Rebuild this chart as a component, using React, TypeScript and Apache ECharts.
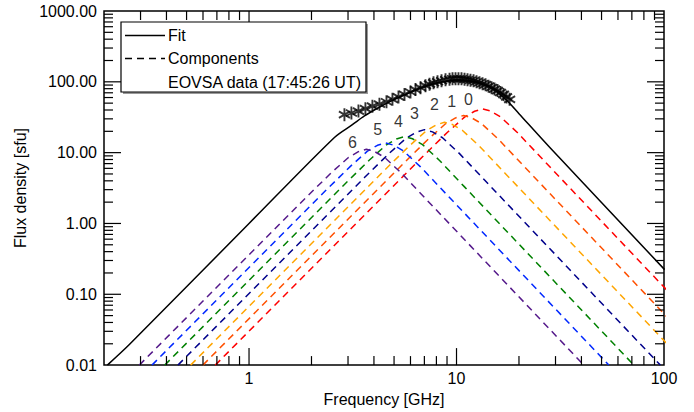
import React, { useEffect, useRef } from 'react';
import * as echarts from 'echarts';

const FONT = '"Liberation Sans", Arial, Helvetica, sans-serif';

const xMin = 0.2;
const xMax = 100;
const yMin = 0.01;
const yMax = 1000;

const xMajorTicks = [1, 10];
const xMinorTicks = [0.3, 0.4, 0.5, 0.6, 0.7, 0.8, 0.9, 2, 3, 4, 5, 6, 7, 8, 9, 20, 30, 40, 50, 60, 70, 80, 90];
const yMajorTicks = [0.1, 1, 10, 100];
const yMinorTicks = [
  0.02, 0.03, 0.04, 0.05, 0.06, 0.07, 0.08, 0.09,
  0.2, 0.3, 0.4, 0.5, 0.6, 0.7, 0.8, 0.9,
  2, 3, 4, 5, 6, 7, 8, 9,
  20, 30, 40, 50, 60, 70, 80, 90,
  200, 300, 400, 500, 600, 700, 800, 900,
];

// Fit (black solid)
const fitFreq = [0.2076, 0.265, 1.0, 2.58, 3.16, 3.6, 4.2, 5.0, 6.0, 7.0, 8.0, 9.0, 10.0, 11.0, 12.5, 14.0, 15.5, 17.7, 20.0, 28.1, 100.7];
const fitFlux = [0.01, 0.0195, 1.0, 16.4, 25.0, 33, 43, 56, 71, 85, 96, 103, 106, 105, 99, 88, 74, 52.6, 35.5, 11.9, 0.223];

// EOVSA data (stars)
const starFreq = [2.883, 3.115, 3.368, 3.639, 3.933, 4.252, 4.597, 4.913, 5.252, 5.614, 6.0, 6.344, 6.707, 7.089, 7.412, 7.747, 8.099, 8.467, 8.851, 9.254, 9.566, 9.89, 10.22, 10.57, 10.93, 11.3, 11.68, 12.08, 12.49, 12.91, 13.35, 13.8, 14.27, 14.75, 15.25, 15.77, 16.3, 16.85, 17.42, 18.02];
const starFlux = [34.4, 36.3, 38.6, 41.8, 45.3, 48.3, 52.3, 56.6, 61.2, 66.3, 71.8, 77.8, 82.8, 88.3, 92.6, 97.1, 100.2, 103.5, 106.9, 108.6, 110.4, 110.4, 110.4, 110.4, 108.6, 106.9, 105.2, 103.5, 100.2, 97.1, 93.9, 91.2, 86.9, 82.8, 79.1, 75.3, 70.6, 66.3, 61.2, 56.6];

// Components 0..6
const comp0Freq = [0.6877, 6.857, 9.047, 10.93, 12.22, 13.35, 14.59, 16.31, 19.70, 25.99, 227.5];
const comp0Flux = [0.01, 8.750, 19.38, 31.73, 38.39, 41.57, 38.64, 31.93, 19.07, 8.081, 0.01];
const comp1Freq = [0.5992, 5.552, 7.326, 8.850, 9.891, 10.81, 11.81, 13.20, 15.95, 21.05, 171.9];
const comp1Flux = [0.01, 7.048, 15.61, 25.55, 30.92, 33.48, 31.12, 25.71, 15.36, 6.509, 0.01];
const comp2Freq = [0.5231, 4.495, 5.931, 7.165, 8.008, 8.752, 9.565, 10.69, 12.91, 17.04, 129.5];
const comp2Flux = [0.01, 5.644, 12.50, 20.46, 24.76, 26.81, 24.92, 20.59, 12.30, 5.212, 0.01];
const comp3Freq = [0.4542, 3.600, 4.750, 5.738, 6.413, 7.009, 7.660, 8.561, 10.34, 13.65, 96.02];
const comp3Flux = [0.01, 4.446, 9.844, 16.12, 19.51, 21.12, 19.63, 16.22, 9.688, 4.106, 0.01];
const comp4Freq = [0.3925, 2.883, 3.805, 4.596, 5.137, 5.614, 6.136, 6.858, 8.284, 10.93, 71.58];
const comp4Flux = [0.01, 3.557, 7.877, 12.90, 15.61, 16.90, 15.71, 12.98, 7.752, 3.285, 0.01];
const comp5Freq = [0.3406, 2.334, 3.080, 3.721, 4.159, 4.545, 4.967, 5.552, 6.707, 8.849, 54.22];
const comp5Flux = [0.01, 2.892, 6.404, 10.49, 12.69, 13.74, 12.77, 10.55, 6.303, 2.671, 0.01];
const comp6Freq = [0.296, 1.890, 2.494, 3.013, 3.367, 3.680, 4.022, 4.495, 5.430, 7.165, 41.07];
const comp6Flux = [0.01, 2.353, 5.211, 8.533, 10.33, 11.18, 10.39, 8.586, 5.128, 2.173, 0.01];

const compFreqs = [comp0Freq, comp1Freq, comp2Freq, comp3Freq, comp4Freq, comp5Freq, comp6Freq];
const compFluxes = [comp0Flux, comp1Flux, comp2Flux, comp3Flux, comp4Flux, comp5Flux, comp6Flux];
const compColors = ['#ff0000', '#ff5000', '#ffa500', '#00008b', '#008000', '#0028ff', '#551a8b'];

// Component number labels
const labelText = ['0', '1', '2', '3', '4', '5', '6'];
const labelFreq = [11.43, 9.491, 7.833, 6.273, 5.252, 4.173, 3.15];
const labelFlux = [56.6, 53.6, 47.2, 36.26, 27.86, 21.32, 13.96];

const STAR_PATH =
  'path://M8.5 0L11.5 0L11.5 20L8.5 20Z M17.91 3.7L19.41 6.3L2.09 16.3L0.59 13.7Z M19.41 13.7L17.91 16.3L0.59 6.3L2.09 3.7Z';

function legendStar(cx: number, cy: number) {
  const s = { stroke: '#222', lineWidth: 1 };
  return [
    { type: 'line', shape: { x1: cx, y1: cy - 6.5, x2: cx, y2: cy + 6.5 }, style: s },
    { type: 'line', shape: { x1: cx - 5.6, y1: cy - 3.2, x2: cx + 5.6, y2: cy + 3.2 }, style: s },
    { type: 'line', shape: { x1: cx - 5.6, y1: cy + 3.2, x2: cx + 5.6, y2: cy - 3.2 }, style: s },
  ];
}

export default function App() {
  const ref = useRef<HTMLDivElement>(null);
  useEffect(() => {
    if (!ref.current) return;
    const chart = echarts.init(ref.current, undefined, { renderer: 'svg' });

    const isPow10 = (v: number) => Math.abs(Math.log10(v) - Math.round(Math.log10(v))) < 1e-6;

    const xTickData = [
      ...xMajorTicks.map((v) => [v, yMin, 1]),
      ...xMinorTicks.map((v) => [v, yMin, 0]),
    ];
    const yTickData = [
      ...yMajorTicks.map((v) => [xMin, v, 1]),
      ...yMinorTicks.map((v) => [xMin, v, 0]),
    ];
    const tickStyle = { stroke: '#000', lineWidth: 1.2 };

    const compSeries = compFreqs.map((fr, i) => ({
      type: 'line',
      name: 'Component ' + labelText[i],
      data: fr.map((f, j) => [f, compFluxes[i][j]]),
      showSymbol: false,
      symbol: 'none',
      lineStyle: { color: compColors[i], width: 1.5, type: [7, 5] },
      z: 3,
    }));

    const option: any = {
      animation: false,
      backgroundColor: '#fff',
      grid: { left: 104, right: 30, top: 11, bottom: 39, show: true, borderColor: '#000', borderWidth: 1.5, backgroundColor: 'transparent' },
      xAxis: {
        type: 'log',
        logBase: 10,
        min: xMin,
        max: xMax,
        name: 'Frequency [GHz]',
        nameLocation: 'middle',
        nameGap: 23,
        nameTextStyle: { fontSize: 16, color: '#000', fontFamily: FONT },
        axisLine: { show: false },
        axisTick: { show: false },
        splitLine: { show: false },
        minorTick: { show: false },
        axisLabel: {
          fontSize: 16,
          color: '#000',
          fontFamily: FONT,
          margin: 5,
          showMinLabel: true,
          showMaxLabel: true,
          formatter: (v: number) => (isPow10(v) && v >= 1 ? String(Math.round(v)) : ''),
        },
      },
      yAxis: {
        type: 'log',
        logBase: 10,
        min: yMin,
        max: yMax,
        name: 'Flux density [sfu]',
        nameLocation: 'middle',
        nameRotate: 90,
        nameGap: 74,
        nameTextStyle: { fontSize: 16, color: '#000', fontFamily: FONT },
        axisLine: { show: false },
        axisTick: { show: false },
        splitLine: { show: false },
        axisLabel: {
          fontSize: 16,
          color: '#000',
          fontFamily: FONT,
          margin: 7,
          formatter: (v: number) => (isPow10(v) ? v.toFixed(2) : ''),
        },
      },
      series: [
        {
          type: 'custom',
          data: xTickData,
          encode: { x: 0, y: 1 },
          clip: false,
          silent: true,
          z: 6,
          renderItem: (params: any, api: any) => {
            const v = api.value(0);
            const len = api.value(2) ? 17 : 9;
            const b = api.coord([v, yMin]);
            const t = api.coord([v, yMax]);
            return {
              type: 'group',
              children: [
                { type: 'line', shape: { x1: b[0], y1: b[1], x2: b[0], y2: b[1] - len }, style: tickStyle },
                { type: 'line', shape: { x1: t[0], y1: t[1], x2: t[0], y2: t[1] + len }, style: tickStyle },
              ],
            };
          },
        },
        {
          type: 'custom',
          data: yTickData,
          encode: { x: 0, y: 1 },
          clip: false,
          silent: true,
          z: 6,
          renderItem: (params: any, api: any) => {
            const v = api.value(1);
            const len = api.value(2) ? 17 : 9;
            const l = api.coord([xMin, v]);
            const r = api.coord([xMax, v]);
            return {
              type: 'group',
              children: [
                { type: 'line', shape: { x1: l[0], y1: l[1], x2: l[0] + len, y2: l[1] }, style: tickStyle },
                { type: 'line', shape: { x1: r[0], y1: r[1], x2: r[0] - len, y2: r[1] }, style: tickStyle },
              ],
            };
          },
        },
        ...compSeries,
        {
          type: 'line',
          name: 'Fit',
          data: fitFreq.map((f, i) => [f, fitFlux[i]]),
          showSymbol: false,
          symbol: 'none',
          smooth: 0.3,
          lineStyle: { color: '#000', width: 1.5 },
          z: 4,
        },
        {
          type: 'scatter',
          name: 'EOVSA data',
          data: starFreq.map((f, i) => [f, starFlux[i]]),
          symbol: STAR_PATH,
          symbolSize: [12, 13],
          itemStyle: { color: '#000' },
          z: 5,
        },
        {
          type: 'scatter',
          name: 'labels',
          data: labelText.map((t, i) => ({ name: t, value: [labelFreq[i], labelFlux[i]] })),
          symbolSize: 1,
          itemStyle: { color: 'rgba(0,0,0,0)' },
          label: { show: true, position: 'inside', formatter: '{b}', fontSize: 16, color: '#000', fontFamily: FONT },
          z: 7,
        },
      ],
      graphic: [
        { type: 'rect', shape: { x: 123, y: 24, width: 245, height: 70 }, style: { fill: '#999' }, z: 10 },
        { type: 'rect', shape: { x: 121, y: 22, width: 245, height: 70 }, style: { fill: '#fff', stroke: '#000', lineWidth: 1.2 }, z: 11 },
        { type: 'line', shape: { x1: 125, y1: 35.5, x2: 165, y2: 35.5 }, style: { stroke: '#000', lineWidth: 1.5 }, z: 12 },
        { type: 'text', x: 168, y: 35.5, style: { text: 'Fit', fontSize: 16, fontFamily: FONT, fill: '#000', verticalAlign: 'middle' }, z: 12 },
        { type: 'line', shape: { x1: 125, y1: 58.5, x2: 165, y2: 58.5 }, style: { stroke: '#000', lineWidth: 1.5, lineDash: [7, 5] }, z: 12 },
        { type: 'text', x: 168, y: 58.5, style: { text: 'Components', fontSize: 16, fontFamily: FONT, fill: '#000', verticalAlign: 'middle' }, z: 12 },
        { type: 'group', z: 12, children: [...legendStar(128, 82), ...legendStar(145, 82), ...legendStar(162, 82)] },
        { type: 'text', x: 168, y: 82, style: { text: 'EOVSA data (17:45:26 UT)', fontSize: 16, fontFamily: FONT, fill: '#000', verticalAlign: 'middle' }, z: 12 },
      ],
    };
    chart.setOption(option);
    return () => chart.dispose();
  }, []);
  return <div ref={ref} style={{ width: 694, height: 412, position: 'absolute', left: 0, top: 0 }} />;
}
